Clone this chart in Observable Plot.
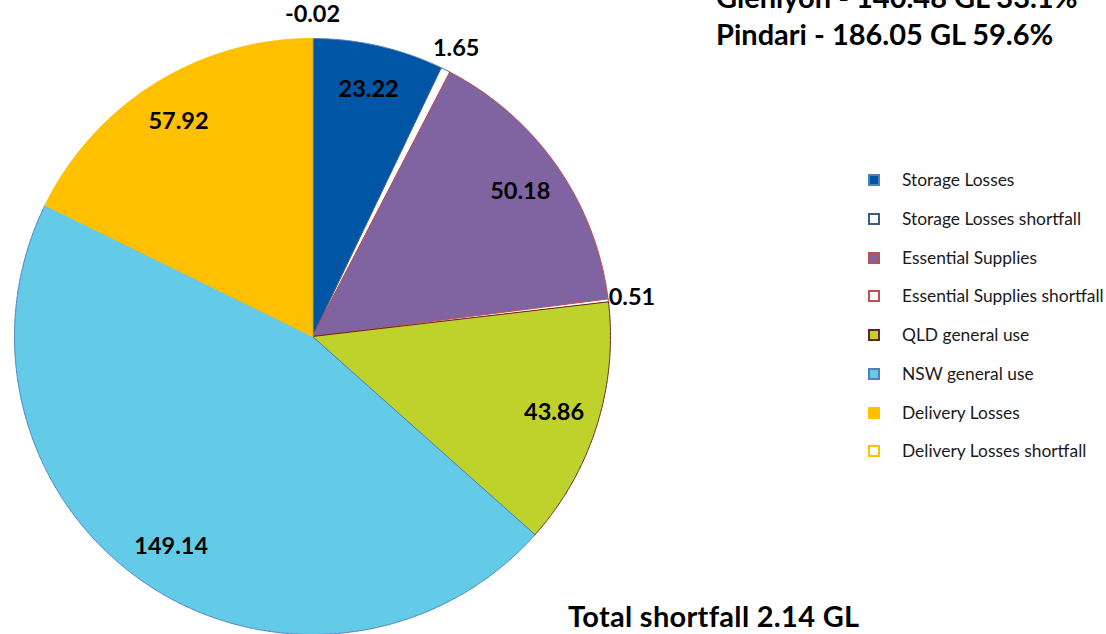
<!DOCTYPE html>
<html>
<head>
<meta charset="utf-8">
<script src="https://cdn.jsdelivr.net/npm/d3@7"></script>
<script src="https://cdn.jsdelivr.net/npm/@observablehq/plot@0.6"></script>
<style>
  html, body { margin: 0; padding: 0; background: #fff; }
  #wrap { position: relative; width: 1106px; height: 634px; overflow: hidden; font-family: Lato, "Open Sans", sans-serif; }
  #chart { position: absolute; left: 0; top: 0; }
  .big { position: absolute; font-weight: bold; font-size: 29px; line-height: 37px; color: #000; white-space: nowrap; }
  .lg-mark { position: absolute; width: 12px; height: 12px; box-sizing: border-box; border: 2px solid; }
  .lg-text { position: absolute; font-size: 17.4px; line-height: 22px; color: #1a1a1a; white-space: nowrap; }
</style>
</head>
<body>
<div id="wrap">
  <div id="chart"></div>
  <div class="big" id="titles" style="left:716px; top:-22px;"></div>
  <div class="big" id="total" style="left:568px; top:597px; letter-spacing:0.3px;"></div>
  <div id="legend"></div>
</div>
<script>
// ---- data ----
const categories = ["Storage Losses", "Storage Losses shortfall", "Essential Supplies", "Essential Supplies shortfall", "QLD general use", "NSW general use", "Delivery Losses", "Delivery Losses shortfall"];
const values = [23.22, 1.65, 50.18, 0.51, 43.86, 149.14, 57.92, -0.02];
const titleLines = ["Glenlyon - 140.48 GL 33.1%", "Pindari - 186.05 GL 59.6%"];
const totalText = "Total shortfall 2.14 GL";

// ---- styles ----
const fills   = ["#0055A4", "#FFFFFF", "#8064A2", "#FFFFFF", "#BFD22B", "#63CBE8", "#FFC000", "#FFFFFF"];
const strokes = ["#4F81BD", "#385D8A", "#C0504D", "#C0504D", "#632523", "#4F81BD", "#FFC000", "#FFC000"];

// ---- geometry from the values ----
const arcs = d3.pie().sort(null).value(v => Math.max(0, v))(values);
const slicePts = [];
arcs.forEach((a, i) => {
  if (a.endAngle - a.startAngle <= 0) return;
  slicePts.push({cat: categories[i], x: 0, y: 0, fill: fills[i], stroke: strokes[i]});
  const n = Math.max(2, Math.ceil((a.endAngle - a.startAngle) / (Math.PI / 720)));
  for (let k = 0; k <= n; k++) {
    const t = a.startAngle + (a.endAngle - a.startAngle) * k / n;
    slicePts.push({cat: categories[i], x: Math.sin(t), y: Math.cos(t), fill: fills[i], stroke: strokes[i]});
  }
});
const labelPts = arcs.map((a, i) => {
  const mid = (a.startAngle + a.endAngle) / 2;
  const small = Math.abs(values[i]) < 2;
  const r = small ? 1.08 : 0.85;
  return {x: r * Math.sin(mid), y: r * Math.cos(mid), text: values[i].toFixed(2)};
});

const W = 1106, H = 634, R = 298, CX = 312, CY = 336;
const chart = Plot.plot({
  width: W, height: H,
  margin: 0,
  style: {fontFamily: "Lato, 'Open Sans', sans-serif", background: "transparent"},
  x: {domain: [-CX / R, (W - CX) / R], range: [0, W], axis: null},
  y: {domain: [-(H - CY) / R, CY / R], range: [H, 0], axis: null},
  color: {type: "identity"},
  marks: [
    Plot.line(slicePts, {x: "x", y: "y", z: "cat", fill: "fill", stroke: "stroke", strokeWidth: 1, curve: "linear-closed"}),
    Plot.text(labelPts, {x: "x", y: "y", text: "text", fontSize: 23.5, fontWeight: "bold", fill: "#000"})
  ]
});
document.getElementById("chart").appendChild(chart);

document.getElementById("titles").innerHTML = titleLines.join("<br>");
document.getElementById("total").textContent = totalText;

const legend = document.getElementById("legend");
categories.forEach((c, i) => {
  const yc = 180 + i * 38.75;
  const m = document.createElement("div");
  m.className = "lg-mark";
  m.style.left = "868px";
  m.style.top = (yc - 6) + "px";
  m.style.background = fills[i];
  m.style.borderColor = strokes[i];
  legend.appendChild(m);
  const t = document.createElement("div");
  t.className = "lg-text";
  t.style.left = "902px";
  t.style.top = (yc - 11) + "px";
  t.textContent = c;
  legend.appendChild(t);
});
</script>
</body>
</html>
